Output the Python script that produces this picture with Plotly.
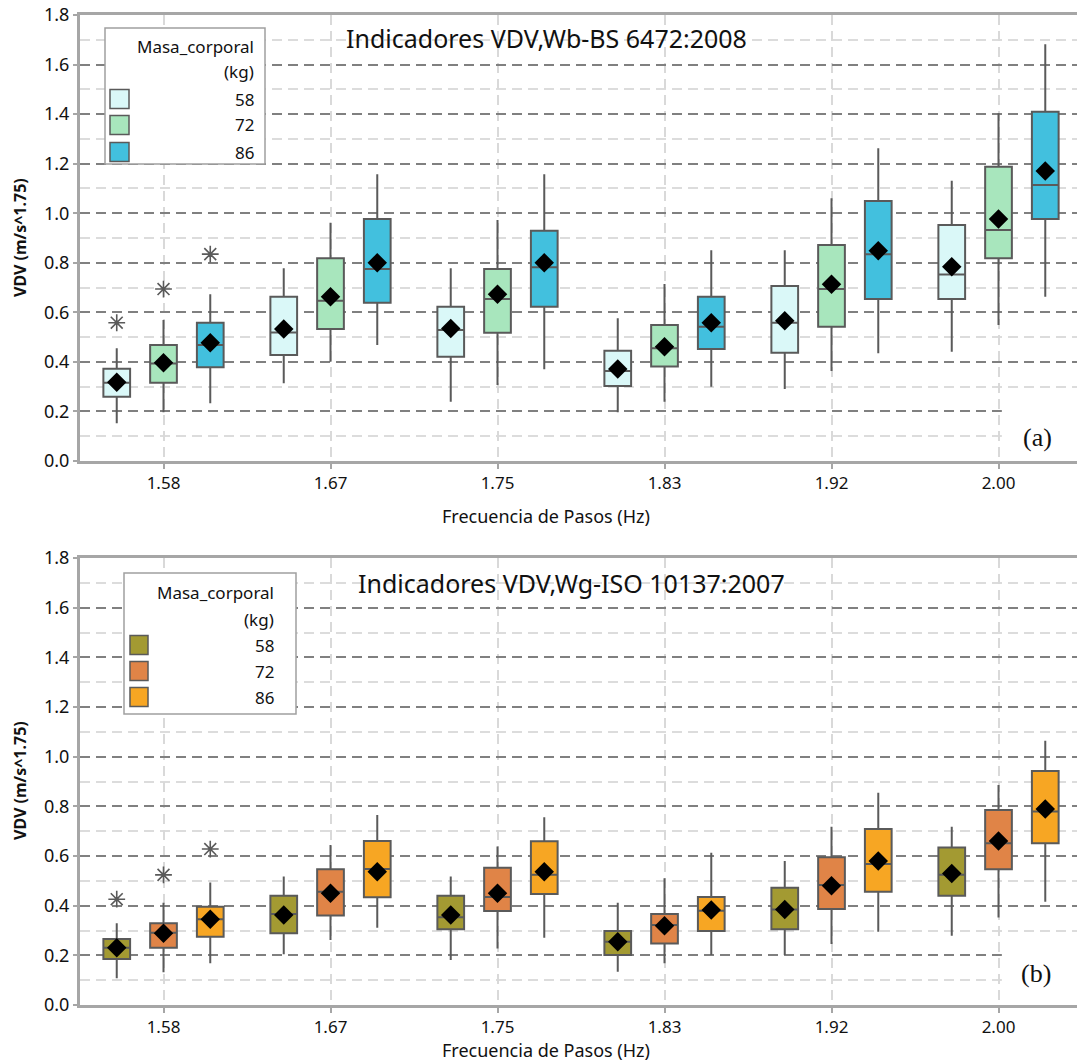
import plotly.graph_objects as go

# ---------------- data ----------------
freq_labels = ["1.58", "1.67", "1.75", "1.83", "1.92", "2.00"]
masses = ["58", "72", "86"]

# Top panel: VDV,Wb - BS 6472:2008  (rows: 58, 72, 86 kg)
wb_q1 = [[0.259, 0.428, 0.421, 0.303, 0.437, 0.654],
         [0.316, 0.533, 0.518, 0.381, 0.542, 0.818],
         [0.378, 0.639, 0.623, 0.452, 0.654, 0.977]]
wb_med = [[0.316, 0.519, 0.529, 0.363, 0.558, 0.753],
          [0.394, 0.647, 0.654, 0.455, 0.694, 0.932],
          [0.468, 0.775, 0.782, 0.542, 0.834, 1.114]]
wb_q3 = [[0.372, 0.663, 0.623, 0.445, 0.706, 0.952],
         [0.468, 0.818, 0.775, 0.549, 0.872, 1.188],
         [0.558, 0.977, 0.929, 0.663, 1.049, 1.410]]
wb_low = [[0.152, 0.314, 0.239, 0.197, 0.291, 0.441],
          [0.197, 0.401, 0.307, 0.239, 0.363, 0.549],
          [0.233, 0.468, 0.370, 0.300, 0.435, 0.663]]
wb_high = [[0.455, 0.778, 0.778, 0.576, 0.851, 1.131],
           [0.569, 0.962, 0.973, 0.714, 1.060, 1.403],
           [0.673, 1.157, 1.157, 0.851, 1.262, 1.682]]
wb_mean = [[0.318, 0.533, 0.535, 0.371, 0.566, 0.784],
           [0.397, 0.663, 0.673, 0.461, 0.713, 0.977],
           [0.477, 0.800, 0.800, 0.558, 0.849, 1.170]]
wb_outlier_freq = [0, 0, 0]
wb_outlier = [0.558, 0.694, 0.835]

# Bottom panel: VDV,Wg - ISO 10137:2007
wg_q1 = [[0.185, 0.289, 0.305, 0.201, 0.305, 0.440],
         [0.231, 0.360, 0.379, 0.248, 0.387, 0.547],
         [0.275, 0.434, 0.447, 0.298, 0.456, 0.651]]
wg_med = [[0.231, 0.366, 0.353, 0.255, 0.385, 0.524],
          [0.291, 0.456, 0.435, 0.322, 0.483, 0.651],
          [0.345, 0.548, 0.524, 0.380, 0.568, 0.779]]
wg_q3 = [[0.266, 0.440, 0.440, 0.298, 0.472, 0.634],
         [0.329, 0.547, 0.553, 0.366, 0.595, 0.785],
         [0.396, 0.660, 0.659, 0.435, 0.709, 0.942]]
wg_low = [[0.108, 0.204, 0.181, 0.134, 0.201, 0.279],
          [0.132, 0.262, 0.228, 0.168, 0.246, 0.352],
          [0.168, 0.311, 0.271, 0.201, 0.295, 0.416]]
wg_high = [[0.329, 0.517, 0.517, 0.412, 0.580, 0.718],
           [0.412, 0.644, 0.638, 0.510, 0.718, 0.886],
           [0.493, 0.765, 0.756, 0.613, 0.855, 1.064]]
wg_mean = [[0.231, 0.362, 0.362, 0.255, 0.385, 0.530],
           [0.289, 0.450, 0.450, 0.319, 0.480, 0.660],
           [0.345, 0.537, 0.537, 0.383, 0.580, 0.789]]
wg_outlier_freq = [0, 0, 0]
wg_outlier = [0.426, 0.524, 0.628]

wb_colors = ["#daf8f8", "#a8e6bd", "#42c0de"]
wg_colors = ["#a39a32", "#e08447", "#f7a623"]
offsets = [-0.28, 0.0, 0.28]

# ---------------- layout helpers ----------------
W, H = 1077, 1061
L = 80
FONT = "Noto Sans"
EDGE = "#5a5a5a"
TXT = "#111111"


def pxx(px):
    return (px - L) / (W - L)


def pxy(py):
    return 1 - py / H


def text_at(px, py, text, size, family=FONT, xanchor="center", angle=0):
    return dict(x=pxx(px), y=pxy(py), xref="paper", yref="paper", text=text,
                showarrow=False, xanchor=xanchor, yanchor="middle",
                textangle=angle, font=dict(family=family, size=size, color=TXT))


fig = go.Figure()

panels = [
    dict(xa="x", ya="y", q1=wb_q1, med=wb_med, q3=wb_q3, lo=wb_low, hi=wb_high,
         mean=wb_mean, of=wb_outlier_freq, ov=wb_outlier, colors=wb_colors),
    dict(xa="x2", ya="y2", q1=wg_q1, med=wg_med, q3=wg_q3, lo=wg_low, hi=wg_high,
         mean=wg_mean, of=wg_outlier_freq, ov=wg_outlier, colors=wg_colors),
]

for p in panels:
    for k in range(3):
        xs = [i + offsets[k] for i in range(len(freq_labels))]
        fig.add_trace(go.Box(
            x=xs, q1=p["q1"][k], median=p["med"][k], q3=p["q3"][k],
            lowerfence=p["lo"][k], upperfence=p["hi"][k],
            width=0.16, whiskerwidth=0, boxpoints=False,
            fillcolor=p["colors"][k], line=dict(color=EDGE, width=2),
            showlegend=False, xaxis=p["xa"], yaxis=p["ya"], name=masses[k]))
    for k in range(3):
        xs = [i + offsets[k] for i in range(len(freq_labels))]
        fig.add_trace(go.Scatter(
            x=xs, y=p["mean"][k], mode="markers",
            marker=dict(symbol="diamond", size=15, color="black"),
            showlegend=False, xaxis=p["xa"], yaxis=p["ya"]))
    fig.add_trace(go.Scatter(
        x=[p["of"][k] + offsets[k] for k in range(3)], y=p["ov"], mode="markers",
        marker=dict(symbol="asterisk-open", size=14, color=EDGE,
                    line=dict(color=EDGE, width=1.6)),
        showlegend=False, xaxis=p["xa"], yaxis=p["ya"]))

xcommon = dict(
    range=[-0.5, 5.47], tickmode="array", tickvals=list(range(len(freq_labels))),
    ticktext=freq_labels, showgrid=True, gridcolor="#d9d9d9", gridwidth=1.5,
    griddash="10px,6px", showline=True, linecolor="#a6a6a6", linewidth=3,
    mirror=True, ticks="outside", ticklen=5, tickwidth=2, tickcolor="#a6a6a6",
    tickfont=dict(family=FONT, size=17, color=TXT), zeroline=False,
    automargin=False,
)
ycommon = dict(
    range=[0, 1.8], dtick=0.2, tick0=0, tickformat=".1f", showgrid=True,
    gridcolor="#808080", gridwidth=1.5, griddash="10px,6px",
    minor=dict(dtick=0.1, showgrid=True, gridcolor="#dcdcdc", gridwidth=1.5,
               griddash="10px,6px"),
    showline=True, linecolor="#a6a6a6", linewidth=3, mirror=True,
    ticks="outside", ticklen=4, tickwidth=2, tickcolor="#a6a6a6",
    tickfont=dict(family=FONT, size=18, color=TXT), zeroline=False,
    automargin=False,
)

top_dom = [pxy(461), pxy(15)]
bot_dom = [pxy(1005), pxy(558)]

fig.update_layout(
    width=W, height=H, margin=dict(l=L, r=0, t=0, b=0, pad=0, autoexpand=False),
    paper_bgcolor="white", plot_bgcolor="white",
    xaxis=dict(**xcommon, anchor="y"),
    yaxis=dict(**ycommon, domain=top_dom, anchor="x"),
    xaxis2=dict(**xcommon, anchor="y2"),
    yaxis2=dict(**ycommon, domain=bot_dom, anchor="x2"),
    showlegend=False,
)

shapes = []
annotations = []

# white patches behind the panel labels
for xa, ya in [("x", "y"), ("x2", "y2")]:
    shapes.append(dict(type="rect", xref=xa, yref=ya, x0=5.02, x1=5.47, y0=0.0,
                       y1=0.225, fillcolor="white", line=dict(width=0),
                       layer="between"))

# panel labels
annotations.append(text_at(1037, 437, "(a)", 26, family="Liberation Serif"))
annotations.append(text_at(1036, 973, "(b)", 26, family="Liberation Serif"))

# titles
annotations.append(text_at(546, 38, "Indicadores VDV,Wb-BS 6472:2008", 25))
annotations.append(text_at(571, 583, "Indicadores VDV,Wg-ISO 10137:2007", 25))

# axis titles
for yc in [238, 781]:
    annotations.append(text_at(20, yc, "<b>VDV (m/s^1.75)</b>", 16, angle=-90))
for yc in [516, 1050]:
    annotations.append(text_at(546, yc, "Frecuencia de Pasos (Hz)", 18))

# manual legends
legends = [
    dict(box=(105, 28, 265, 164), title_y=46, kg_y=72, right=256,
         sq_x=(110, 129), items_y=[99, 125, 152], colors=wb_colors),
    dict(box=(124, 573, 296, 714), title_y=592, kg_y=619, right=276,
         sq_x=(130, 148), items_y=[645, 671, 697], colors=wg_colors),
]
for lg in legends:
    x0, y0, x1, y1 = lg["box"]
    shapes.append(dict(type="rect", xref="paper", yref="paper",
                       x0=pxx(x0), x1=pxx(x1), y0=pxy(y1), y1=pxy(y0),
                       fillcolor="white", line=dict(color="#a0a0a0", width=1.5),
                       layer="above"))
    annotations.append(text_at(lg["right"], lg["title_y"], "Masa_corporal", 17,
                               xanchor="right"))
    annotations.append(text_at(lg["right"], lg["kg_y"], "(kg)", 17, xanchor="right"))
    for k in range(3):
        yc = lg["items_y"][k]
        sx0, sx1 = lg["sq_x"]
        shapes.append(dict(type="rect", xref="paper", yref="paper",
                           x0=pxx(sx0), x1=pxx(sx1), y0=pxy(yc + 9.5), y1=pxy(yc - 9.5),
                           fillcolor=lg["colors"][k], line=dict(color=EDGE, width=1.5),
                           layer="above"))
        annotations.append(text_at(lg["right"], yc, masses[k], 17, xanchor="right"))

fig.update_layout(shapes=shapes, annotations=annotations)
fig.write_html("out.html")
